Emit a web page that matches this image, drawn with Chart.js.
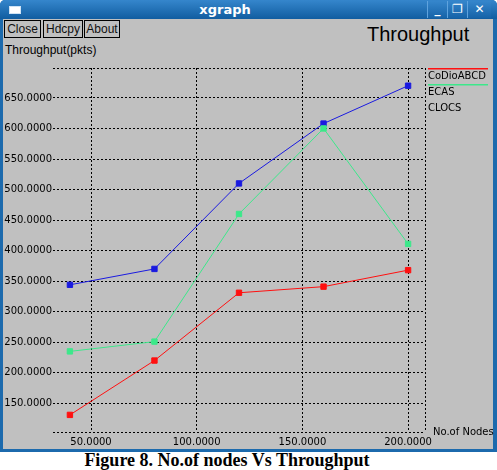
<!DOCTYPE html>
<html>
<head>
<meta charset="utf-8">
<script src="https://cdn.jsdelivr.net/npm/chart.js@4"></script>
<style>
  html,body{margin:0;padding:0;background:#fff;}
  #wrap{position:relative;width:497px;height:470px;overflow:hidden;font-family:'DejaVu Sans',sans-serif;}
  #win{position:absolute;left:0;top:0;width:497px;height:452px;background:#1c6aad;border-radius:5px 5px 0 0;}
  #titlebar{position:absolute;left:0;top:0;width:497px;height:19px;background:linear-gradient(#3586cc,#115da0);border-radius:5px 5px 0 0;}
  #titletext{position:absolute;left:0;width:450px;top:2px;text-align:center;color:#fff;font-weight:bold;font-size:13px;}
  #icon{position:absolute;left:9px;top:6px;width:10px;height:6px;background:#fff;border:1px solid #cfe3f5;}
  .wbtn{position:absolute;top:1px;height:17px;color:#fff;font-size:12px;font-weight:bold;text-align:center;line-height:16px;border-left:1px solid #5fa3de;background:linear-gradient(#3586cc,#1663a8);}
  #client{position:absolute;left:3px;top:19px;width:490px;height:430px;background:#c0c0c0;}
  .btn{position:absolute;top:20px;height:16px;border:1px solid #000;font-size:12px;line-height:16px;text-align:center;color:#111;font-family:'Liberation Sans',sans-serif;}
  #ylab{position:absolute;left:5px;top:43px;font-size:12px;color:#000;font-family:'Liberation Sans',sans-serif;}
  #bigtitle{position:absolute;left:367px;top:23px;font-size:20px;color:#000;font-family:'Liberation Sans',sans-serif;}
  #caption{position:absolute;left:0;width:454px;top:450px;text-align:center;font-family:'Liberation Serif',serif;font-weight:bold;font-size:18px;color:#000;}
  canvas{position:absolute;left:0;top:0;}
</style>
</head>
<body>
<div id="wrap">
  <div id="win"></div>
  <div id="titlebar"><div id="icon"></div><div id="titletext">xgraph</div></div>
  <div class="wbtn" style="left:427px;width:19px;">_</div>
  <div class="wbtn" style="left:447px;width:19px;">&#x2750;</div>
  <div class="wbtn" style="left:467px;width:23px;">&#x2715;</div>
  <div id="client"></div>
  <div class="btn" style="left:4px;width:35px;">Close</div>
  <div class="btn" style="left:43px;width:38px;">Hdcpy</div>
  <div class="btn" style="left:84px;width:34px;">About</div>
  <div id="ylab">Throughput(pkts)</div>
  <div id="bigtitle">Throughput</div>
  <div id="caption">Figure 8. No.of nodes Vs Throughput</div>
  <canvas id="c" width="497" height="470"></canvas>
</div>
<script>
// ---- data ----
const nodes = [40, 80, 120, 160, 200];
const codioABCD = [131, 220, 331, 341, 368];
const ecas = [235, 251, 460, 600, 411];
const clocs = [344, 370, 510, 608, 670];
const xTicks = [50, 100, 150, 200];
const yTicks = [150, 200, 250, 300, 350, 400, 450, 500, 550, 600, 650];
const xMin = 32, xMax = 208, yMin = 103, yMax = 699;
const seriesNames = ['CoDioABCD', 'ECAS', 'CLOCS'];
const xAxisName = 'No.of Nodes';

const colors = ['#ff1010', '#3ce88a', '#1a1ae0'];
const legendLine = [true, true, false];

function pts(arr){ return nodes.map((x,i)=>({x:x,y:arr[i]})); }

const legendPlugin = {
  id:'xgLegend',
  afterDraw(chart){
    const ctx = chart.ctx;
    const ca = chart.chartArea;
    ctx.save();
    ctx.setLineDash([]);
    ctx.font = '10px "DejaVu Sans"';
    ctx.textBaseline = 'middle';
    ctx.textAlign = 'left';
    chart.data.datasets.forEach((ds,i)=>{
      const yLine = 68 + i*16;
      if (legendLine[i]) {
        ctx.fillStyle = colors[i];
        ctx.fillRect(ca.right + 3, yLine, 60, 1.5);
      }
      ctx.fillStyle = '#000';
      ctx.fillText(ds.label, ca.right + 3, yLine + 8);
    });
    ctx.fillText(xAxisName, ca.right + 8, ca.bottom);
    ctx.restore();
  }
};

new Chart(document.getElementById('c'), {
  type: 'line',
  data: {
    datasets: [
      {label: seriesNames[0], data: pts(codioABCD), borderColor: colors[0], backgroundColor: colors[0]},
      {label: seriesNames[1], data: pts(ecas), borderColor: colors[1], backgroundColor: colors[1]},
      {label: seriesNames[2], data: pts(clocs), borderColor: colors[2], backgroundColor: colors[2]}
    ].map(d => Object.assign(d, {borderWidth:1, pointStyle:'rect', pointRadius:3.8, pointHoverRadius:3.8, tension:0, fill:false}))
  },
  options: {
    responsive: false,
    animation: false,
    events: [],
    layout: {padding: {left: 0, top: 68, right: 72, bottom: 0}},
    plugins: {legend: {display: false}, tooltip: {enabled: false}, title: {display: false}},
    scales: {
      x: {
        type: 'linear', min: xMin, max: xMax,
        afterBuildTicks: s => { s.ticks = xTicks.concat([xMax]).map(v => ({value: v})); },
        afterFit: s => { s.height = 38; },
        ticks: {
          autoSkip: false, maxRotation: 0, padding: 4, color: '#000',
          font: {family: 'DejaVu Sans', size: 10},
          callback: v => (v === xMax ? '' : Number(v).toFixed(4))
        },
        grid: {color: '#000', lineWidth: 1, drawTicks: false, tickLength: 0},
        border: {display: false, dash: [2,2]}
      },
      y: {
        type: 'linear', min: yMin, max: yMax,
        afterBuildTicks: s => { s.ticks = [yMin].concat(yTicks, [yMax]).map(v => ({value: v})); },
        afterFit: s => { s.width = 53; },
        ticks: {
          autoSkip: false, padding: 1, color: '#000',
          font: {family: 'DejaVu Sans', size: 10},
          callback: v => ((v === yMin || v === yMax) ? '' : Number(v).toFixed(4))
        },
        grid: {color: '#000', lineWidth: 1, drawTicks: false, tickLength: 0},
        border: {display: false, dash: [2,2]}
      }
    }
  },
  plugins: [legendPlugin]
});
</script>
</body>
</html>
